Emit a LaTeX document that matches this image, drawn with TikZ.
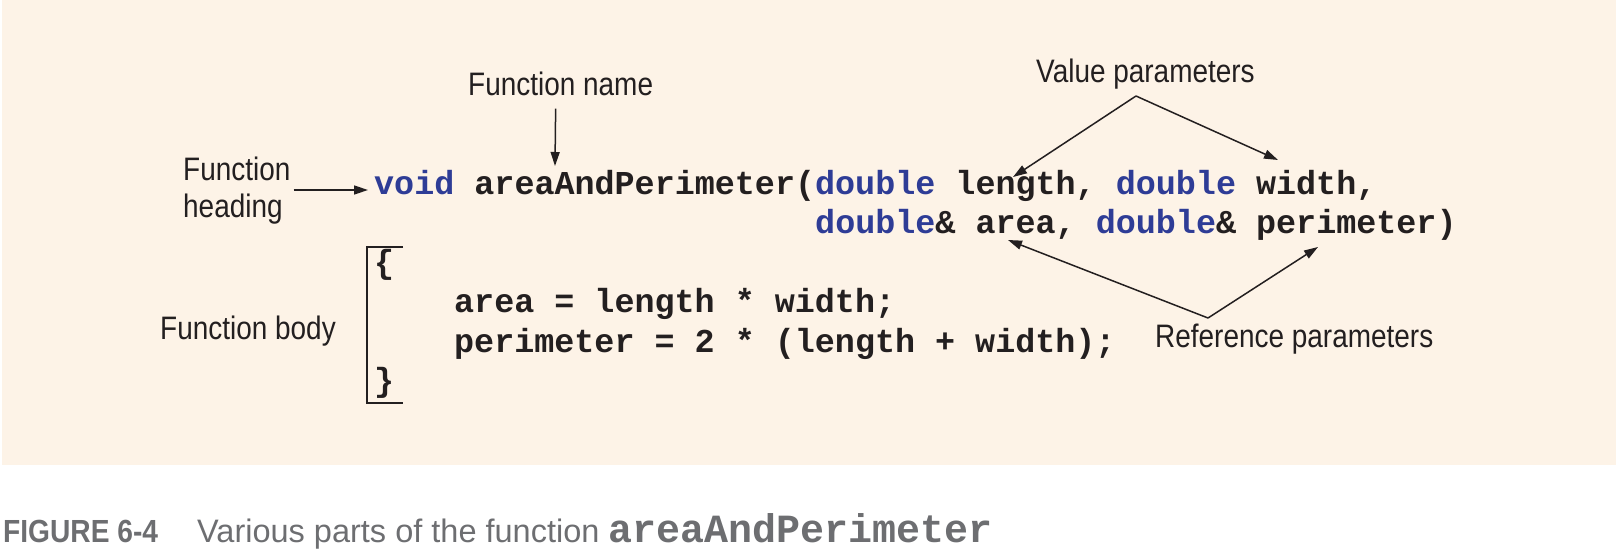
\documentclass[tikz,border=0pt]{standalone}
\usepackage{fontspec}
\setmainfont{Liberation Sans}
\newfontfamily\labelfont[FakeStretch=0.86]{Liberation Sans}
\newfontfamily\capfont{Liberation Sans}
\newfontfamily\capboldfont[FakeStretch=0.88]{Liberation Sans}
\newfontfamily\codefont{Liberation Mono}
\usetikzlibrary{arrows.meta}
\definecolor{paper}{HTML}{FDF3E7}
\definecolor{ink}{HTML}{231F20}
\definecolor{kw}{HTML}{2E3C96}
\definecolor{capgray}{HTML}{6D6E71}
\newcommand{\kw}[1]{\textcolor{kw}{#1}}
\begin{document}
\begin{tikzpicture}[x=1pt,y=-1pt,
  lbl/.style={font=\labelfont\fontsize{32.5}{37}\selectfont, text=ink, inner sep=0pt},
  code/.style={font=\codefont\bfseries\fontsize{33.4}{39.5}\selectfont, text=ink, inner sep=0pt, anchor=base west},
  arr/.style={draw=ink, line width=1.5pt, -{Triangle[length=14pt,width=9pt]}},
  bracket/.style={draw=ink, line width=1.6pt}]
\useasboundingbox (0,0) rectangle (1616,554);
\fill[paper] (2,0) rectangle (1616,465);

% code listing
\node[code] (l1) at (374,194) {\kw{void} areaAndPerimeter(\kw{double} length, \kw{double} width,};
\node[code] (l2) at (815,233.5) {\kw{double}\& area, \kw{double}\& perimeter)};
\node[code] (l3) at (374,273) {\{};
\node[code] (l4) at (454,312.5) {area = length * width;};
\node[code] (l5) at (454,352) {perimeter = 2 * (length + width);};
\node[code] (l6) at (374,391.5) {\}};

% body bracket
\draw[bracket] (403,247) -- (367,247) -- (367,403) -- (403,403);

% labels
\node[lbl, anchor=base west] (fname) at (468,95) {Function name};
\node[lbl, anchor=north west, align=left] (fhead) at (183,157) {Function\\heading};
\node[lbl, anchor=base west] (fbody) at (160,339) {Function body};
\node[lbl, anchor=base west] (vp) at (1036,82) {Value parameters};
\node[lbl, anchor=base west] (rp) at (1155,347) {Reference parameters};

% arrow end points
\coordinate (nameTip) at (555,166);
\coordinate (headTip) at (368,190);
\coordinate (vapex) at (1136,96);
\coordinate (lenTip) at (1013,177);
\coordinate (widTip) at (1278,160);
\coordinate (rapex) at (1208,318);
\coordinate (areaTip) at (1008,240);
\coordinate (perTip) at (1318,247);

\draw[arr] ([xshift=-5pt,yshift=-13pt]fname.south) -- (nameTip);
\draw[arr] ([xshift=3pt]fhead.east |- headTip) -- (headTip);
\draw[arr] (vapex) -- (lenTip);
\draw[arr] (vapex) -- (widTip);
\draw[arr] (rapex) -- (areaTip);
\draw[arr] (rapex) -- (perTip);

% caption
\node[anchor=base west, inner sep=0pt, text=capgray] (capnum) at (3,542)
  {\capboldfont\bfseries\fontsize{32}{36}\selectfont FIGURE 6-4};
\node[anchor=base west, inner sep=0pt, text=capgray] (captext) at (197,542)
  {\capfont\fontsize{32.5}{36}\selectfont Various parts of the function \codefont\bfseries\fontsize{40}{40}\selectfont areaAndPerimeter};
\end{tikzpicture}
\end{document}
